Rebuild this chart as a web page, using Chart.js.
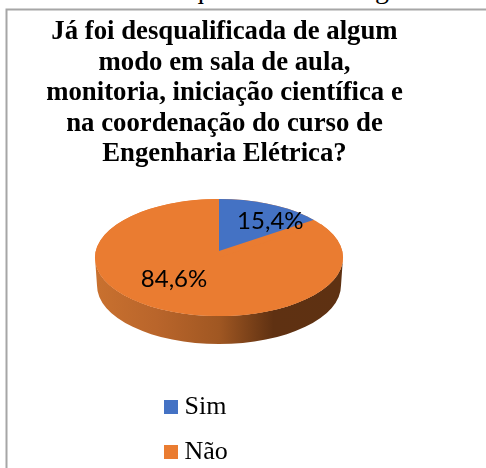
<!DOCTYPE html>
<html lang="pt">
<head>
<meta charset="utf-8">
<style>
html,body{margin:0;padding:0;background:#fff;overflow:hidden}
#wrap{position:relative;width:486px;height:468px;overflow:hidden}
#caption{position:absolute;left:12px;top:-26px;white-space:nowrap;font:28px/30px "Liberation Serif",serif;color:#000}
canvas{position:absolute;left:0;top:0}
</style>
<script src="https://cdn.jsdelivr.net/npm/chart.js@4"></script>
</head>
<body>
<div id="wrap">
<div id="caption">Gráfico 3 – Desqualificada de alguma forma</div>
<canvas id="c" width="486" height="468"></canvas>
</div>
<script>
const categories = ['Sim', 'Não'];
const values = [15.4, 84.6];
const sliceColors = ['#4472c4', '#ea7c31'];
const titleLines = [
  'Já foi desqualificada de algum',
  'modo em sala de aula,',
  'monitoria, iniciação científica e',
  'na coordenação do curso de',
  'Engenharia Elétrica?'
];
const labelRadial = [0.89, 0.78];
const labelSquash = [0.30, 0.33];

const pieCx = 219, pieCy = 251, pieR = 124;
const faceCy = 257.5, faceRy = 58.5, depth = 28;
const wedgeSquash = 0.478;

const pie3d = {
  id: 'pie3d',
  beforeDraw(chart) {
    const ctx = chart.ctx;
    ctx.save();
    ctx.strokeStyle = '#a6a6a6';
    ctx.lineWidth = 2;
    ctx.beginPath();
    ctx.moveTo(6.5, 468);
    ctx.lineTo(6.5, 9.5);
    ctx.lineTo(486, 9.5);
    ctx.stroke();
    ctx.restore();
  },
  afterLayout(chart) {
    const l = chart.legend;
    const w = l.width, h = l.height;
    l.left = 170.5 - l.options.labels.padding; l.right = l.left + w;
    l.top = 375; l.bottom = l.top + h;
    chart.chartArea = {left: pieCx - pieR, right: pieCx + pieR, top: pieCy - pieR, bottom: pieCy + pieR, width: 2 * pieR, height: 2 * pieR};
  },
  beforeDatasetsDraw(chart) {
    const ctx = chart.ctx;
    const arcs = chart.getDatasetMeta(0).data;
    const cx = arcs[0].x, cy = arcs[0].y, R = arcs[0].outerRadius;

    // side wall
    const g = ctx.createLinearGradient(cx - R, 0, cx + R, 0);
    g.addColorStop(0, '#c9712f');
    g.addColorStop(0.25, '#b9652b');
    g.addColorStop(0.5, '#a05722');
    g.addColorStop(0.72, '#5f3112');
    g.addColorStop(1, '#5e3112');
    ctx.save();
    ctx.fillStyle = g;
    ctx.beginPath();
    ctx.ellipse(cx, faceCy, R, faceRy, 0, Math.PI, 0, true);
    ctx.lineTo(cx + R - 2, faceCy + depth);
    ctx.ellipse(cx, faceCy + depth, R - 2, faceRy, 0, 0, Math.PI, false);
    ctx.closePath();
    ctx.fill();
    ctx.restore();

    // top face: the large slice on its backing ellipse
    const sq = faceRy / R;
    ctx.save();
    ctx.fillStyle = sliceColors[1];
    ctx.beginPath();
    ctx.ellipse(cx, faceCy, R, faceRy, 0, 0, Math.PI * 2);
    ctx.fill();
    ctx.translate(cx, faceCy);
    ctx.scale(1, sq);
    ctx.translate(-cx, -cy);
    arcs[1].draw(ctx);
    ctx.restore();

    // small slice, apex set back, clipped to the face
    ctx.save();
    ctx.beginPath();
    ctx.ellipse(cx, faceCy, R, faceRy, 0, 0, Math.PI * 2);
    ctx.clip();
    ctx.translate(cx, cy);
    ctx.scale(1.25, 1.25 * wedgeSquash);
    ctx.translate(-cx, -cy);
    arcs[0].draw(ctx);
    ctx.restore();

    // value labels
    ctx.save();
    ctx.fillStyle = '#000';
    ctx.font = '24px Lato, sans-serif';
    ctx.textAlign = 'center';
    ctx.textBaseline = 'middle';
    arcs.forEach((a, i) => {
      const mid = (a.startAngle + a.endAngle) / 2;
      const x = a.x + Math.cos(mid) * a.outerRadius * labelRadial[i];
      const y = a.y + Math.sin(mid) * a.outerRadius * labelRadial[i] * labelSquash[i];
      ctx.fillText(values[i].toFixed(1).replace('.', ',') + '%', x, y);
    });
    ctx.restore();
    return false;
  }
};

new Chart(document.getElementById('c'), {
  type: 'pie',
  data: {
    labels: categories,
    datasets: [{data: values, backgroundColor: sliceColors, borderWidth: 0}]
  },
  plugins: [pie3d],
  options: {
    responsive: false,
    animation: false,
    radius: pieR,
    layout: {padding: {left: 0, right: 37, top: 0, bottom: 0}},
    plugins: {
      tooltip: {enabled: false},
      title: {
        display: true,
        text: titleLines,
        color: '#000',
        align: 'center',
        padding: {top: 17, bottom: 10},
        font: {family: '"Liberation Serif", serif', size: 26.75, weight: 'bold', lineHeight: 1.14}
      },
      legend: {
        display: true,
        position: 'left',
        align: 'start',
        labels: {
          color: '#000',
          usePointStyle: true,
          pointStyle: 'rect',
          boxWidth: 1,
          boxHeight: 14,
          padding: 19,
          font: {family: '"Liberation Serif", serif', size: 26}
        }
      }
    }
  }
});
</script>
</body>
</html>
